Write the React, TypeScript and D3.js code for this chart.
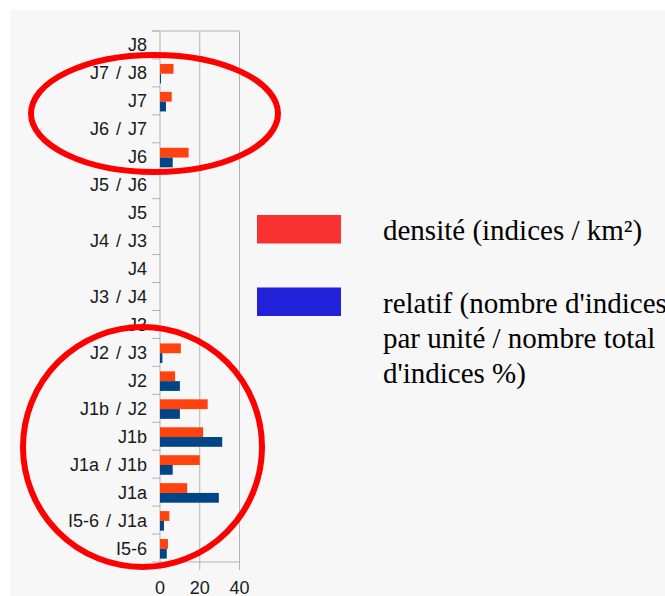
import * as d3 from "d3";

// categories, top to bottom as on the chart
const categories = [
  "J8", "J7 / J8", "J7", "J6 / J7", "J6", "J5 / J6", "J5", "J4 / J3", "J4",
  "J3 / J4", "J3", "J2 / J3", "J2", "J1b / J2", "J1b", "J1a / J1b", "J1a",
  "I5-6 / J1a", "I5-6",
];

// densité (indices / km²)
const densite = [0, 6.8, 5.9, 0, 14.4, 0, 0, 0, 0, 0, 0, 10.5, 7.6, 24, 21.7, 20, 13.7, 4.7, 4];
// relatif (% of all indices)
const relatif = [0, 0.5, 3, 0, 6.4, 0, 0, 0, 0, 0, 0, 1.2, 10, 10, 31.3, 6.4, 29.6, 2, 3.4];

const xTicks = [0, 20, 40];
const seriesKeys = ["densite", "relatif"];
const legendLabels = [
  ["densité (indices / km²)"],
  ["relatif (nombre d'indices", "par unité / nombre total", "d'indices %)"],
];

const width = 665;
const height = 596;
const plotLeft = 160;
const plotRight = 239.5;
const plotTop = 31;
const plotBottom = 562;

const barColors = ["#ff420e", "#004586"];
const legendColors = ["#f93131", "#2121d9"];
const gridColor = "#b3b3b3";
const axisFont = "'Liberation Sans', Arial, sans-serif";

export default function App() {
  const x = d3.scaleLinear().domain([0, 40]).range([plotLeft, plotRight]);
  const y = d3.scaleBand<string>().domain(categories).range([plotTop, plotBottom]).padding(0);
  const sub = d3.scaleBand<string>().domain(seriesKeys).range([0, y.bandwidth()]).paddingInner(0).paddingOuter(0.43);

  const rows = categories.map((c, i) => ({ cat: c, values: [densite[i], relatif[i]] }));

  return (
    <svg
      width={width}
      height={height}
      style={{ position: "fixed", left: 0, top: 0, display: "block" }}
    >
      <rect x={0} y={0} width={width} height={height} fill="#ffffff" />
      <rect x={10} y={10} width={width - 10} height={height - 10} fill="#f7f7f7" />

      {/* gridlines */}
      {xTicks.map(t => (
        <line key={"g" + t} x1={x(t)} x2={x(t)} y1={plotTop} y2={plotBottom + 8} stroke={gridColor} strokeWidth={1} />
      ))}
      <line x1={plotLeft - 8} x2={plotRight} y1={plotTop} y2={plotTop} stroke={gridColor} />
      <line x1={plotLeft - 8} x2={plotRight} y1={plotBottom} y2={plotBottom} stroke={gridColor} />

      {/* y ticks on band boundaries */}
      {categories.map(c => (
        <line key={"t" + c} x1={plotLeft - 8} x2={plotLeft} y1={y(c)!} y2={y(c)!} stroke={gridColor} />
      ))}

      {/* bars */}
      {rows.map(r => (
        <g key={r.cat} transform={`translate(0,${y(r.cat)})`}>
          {r.values.map((v, j) =>
            v > 0 ? (
              <rect
                key={j}
                x={x(0)}
                y={sub(seriesKeys[j])! + 0.8}
                width={x(v) - x(0)}
                height={sub.bandwidth()}
                fill={barColors[j]}
              />
            ) : null
          )}
        </g>
      ))}

      {/* y labels */}
      {categories.map(c => (
        <text
          key={"l" + c}
          x={147}
          y={y(c)! + y.bandwidth() / 2}
          dy="0.36em"
          textAnchor="end"
          fontFamily={axisFont}
          fontSize={18}
          wordSpacing={2}
          fill="#1a1a1a"
        >
          {c}
        </text>
      ))}

      {/* x labels */}
      {xTicks.map(t => (
        <text
          key={"x" + t}
          x={x(t)}
          y={594}
          textAnchor="middle"
          fontFamily={axisFont}
          fontSize={18}
          fill="#1a1a1a"
        >
          {t}
        </text>
      ))}

      {/* legend */}
      {legendLabels.map((lines, i) => (
        <g key={"lg" + i}>
          <rect x={257} y={i === 0 ? 215 : 287.5} width={84} height={28.5} fill={legendColors[i]} />
          {lines.map((ln, k) => (
            <text
              key={k}
              x={383}
              y={(i === 0 ? 240 : 313) + k * 35}
              fontFamily="'Liberation Serif', 'Times New Roman', serif"
              fontSize={29}
              fill="#000"
            >
              {ln}
            </text>
          ))}
        </g>
      ))}

      {/* red annotation ellipses */}
      <ellipse cx={154.5} cy={113.5} rx={123.5} ry={58.5} fill="none" stroke="#ff0000" strokeWidth={6} />
      <ellipse cx={142.5} cy={447} rx={119.5} ry={120} fill="none" stroke="#ff0000" strokeWidth={6} />
    </svg>
  );
}
